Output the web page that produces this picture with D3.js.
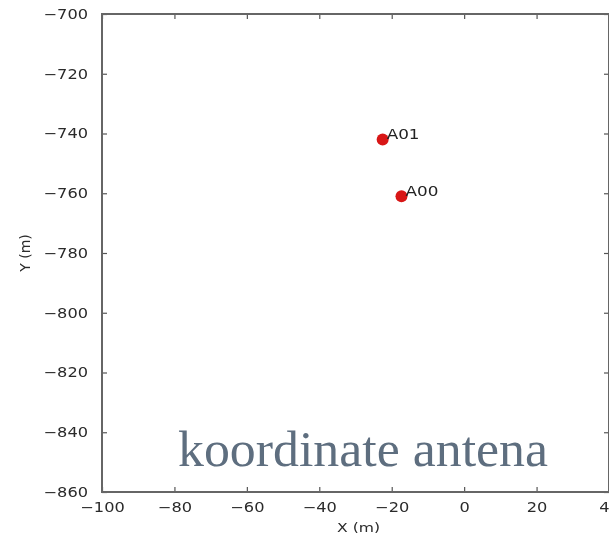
<!DOCTYPE html>
<html>
<head>
<meta charset="utf-8">
<script src="https://cdn.jsdelivr.net/npm/d3@7"></script>
<style>
  html, body { margin: 0; padding: 0; background: #fff; }
  svg { display: block; }
</style>
</head>
<body>
<svg id="chart" width="609" height="540"></svg>
<script>
// Antenna positions (metres)
const antennaNames = ["A00", "A01"];
const antennaX = [-17.3, -22.5];
const antennaY = [-761, -742];

// Axis ticks
const xTicks = [-100, -80, -60, -40, -20, 0, 20, 40];
const yTicks = [-700, -720, -740, -760, -780, -800, -820, -840, -860];

const xDomain = [-100, 40];
const yDomain = [-860, -700];

const caption = "koordinate antena";

const svg = d3.select("#chart");
const plot = { left: 102, top: 14, right: 609, bottom: 492 };

const x = d3.scaleLinear().domain(xDomain).range([plot.left, plot.right]);
const y = d3.scaleLinear().domain(yDomain).range([plot.bottom, plot.top]);

// soft rendering of the figure
const defs = svg.append("defs");
defs.append("filter").attr("id", "soft")
  .append("feGaussianBlur").attr("stdDeviation", 0.55);

const fig = svg.append("g").attr("filter", "url(#soft)");

const stretch = 1.2;
function widen(sel) {
  sel.each(function () {
    const w = this.getComputedTextLength();
    d3.select(this).attr("textLength", w * stretch).attr("lengthAdjust", "spacingAndGlyphs");
  });
}

const fmt = d3.format("d");

// bottom axis (labels) with inward ticks
const xAxis = fig.append("g")
  .attr("transform", `translate(0,${plot.bottom})`)
  .call(d3.axisBottom(x).tickValues(xTicks).tickFormat(fmt).tickSizeInner(-5).tickSizeOuter(0).tickPadding(14));
// left axis
const yAxis = fig.append("g")
  .attr("transform", `translate(${plot.left},0)`)
  .call(d3.axisLeft(y).tickValues(yTicks).tickFormat(fmt).tickSizeInner(-5).tickSizeOuter(0).tickPadding(14));
// top and right axes: ticks only
const xTop = fig.append("g")
  .attr("transform", `translate(0,${plot.top})`)
  .call(d3.axisTop(x).tickValues(xTicks).tickFormat("").tickSizeInner(-5).tickSizeOuter(0));
const yRight = fig.append("g")
  .attr("transform", `translate(${plot.right},0)`)
  .call(d3.axisRight(y).tickValues(yTicks).tickFormat("").tickSizeInner(-5).tickSizeOuter(0));

[xAxis, yAxis, xTop, yRight].forEach(g => {
  g.select(".domain").remove();
  g.selectAll(".tick line").attr("stroke", "#555").attr("stroke-width", 1.2);
});

[xAxis, yAxis].forEach(g => {
  g.selectAll(".tick text")
    .attr("font-family", "DejaVu Sans")
    .attr("font-size", 13.5)
    .attr("fill", "#2a2a2a");
});
xAxis.selectAll(".tick text").attr("dy", "0.35em").attr("y", 15);
widen(xAxis.selectAll(".tick text"));
widen(yAxis.selectAll(".tick text"));

// frame
fig.append("rect")
  .attr("x", plot.left).attr("y", plot.top)
  .attr("width", plot.right - plot.left).attr("height", plot.bottom - plot.top)
  .attr("fill", "none").attr("stroke", "#666").attr("stroke-width", 2);

// axis titles
fig.append("text")
  .attr("x", (plot.left + plot.right) / 2 + 3).attr("y", 532)
  .attr("text-anchor", "middle")
  .attr("font-family", "DejaVu Sans").attr("font-size", 13)
  .attr("fill", "#2a2a2a")
  .text("X (m)")
  .call(widen);

fig.append("text")
  .attr("transform", `translate(30,${(plot.top + plot.bottom) / 2}) rotate(-90)`)
  .attr("text-anchor", "middle")
  .attr("font-family", "DejaVu Sans").attr("font-size", 14)
  .attr("fill", "#2a2a2a")
  .text("Y (m)");

// antennas
const antennas = antennaNames.map((n, i) => ({ name: n, x: antennaX[i], y: antennaY[i] }));

fig.selectAll("circle.ant")
  .data(antennas)
  .join("circle")
  .attr("class", "ant")
  .attr("cx", d => x(d.x)).attr("cy", d => y(d.y))
  .attr("r", 6)
  .attr("fill", "#d81818");

fig.selectAll("text.ant")
  .data(antennas)
  .join("text")
  .attr("class", "ant")
  .attr("x", d => x(d.x) + 4).attr("y", d => y(d.y))
  .attr("font-family", "DejaVu Sans").attr("font-size", 14)
  .attr("fill", "#222")
  .text(d => d.name)
  .call(widen);

// caption
svg.append("text")
  .attr("x", 178).attr("y", 466)
  .attr("font-family", "Liberation Serif").attr("font-size", 51)
  .attr("fill", "#5e6e7f")
  .attr("textLength", 370).attr("lengthAdjust", "spacingAndGlyphs")
  .text(caption);
</script>
</body>
</html>
